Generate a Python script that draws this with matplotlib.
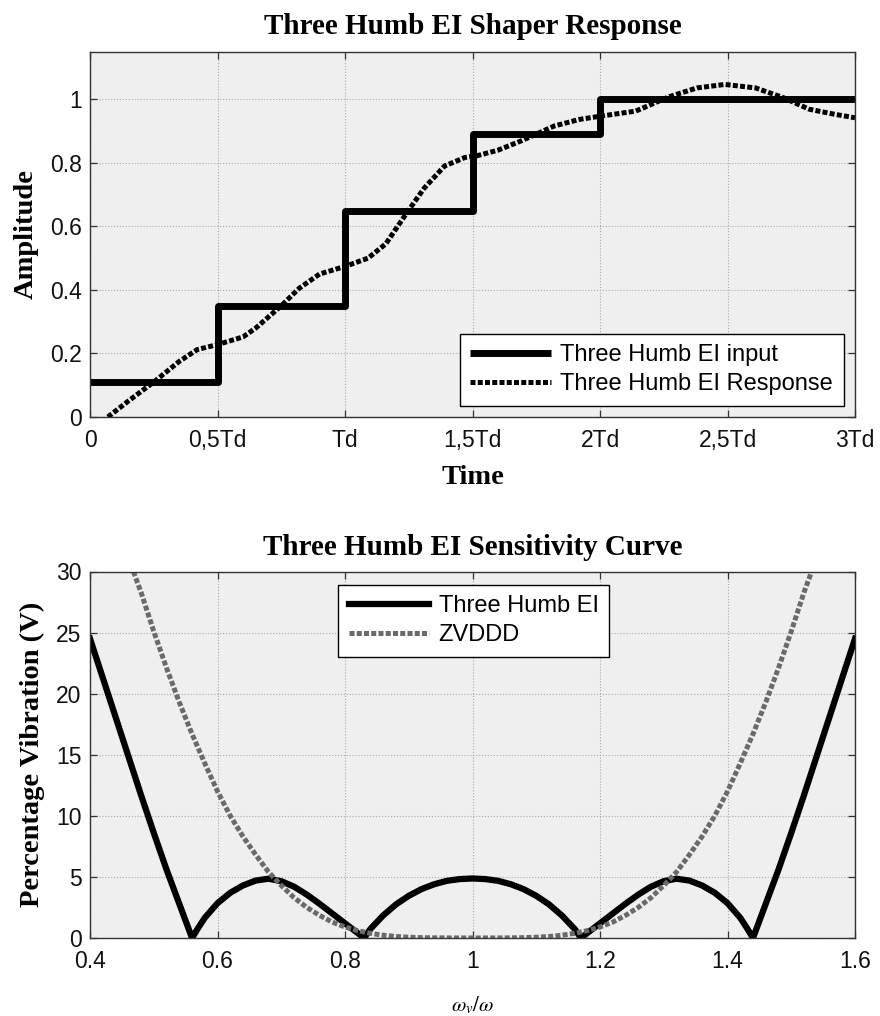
import matplotlib
matplotlib.use("Agg")
import matplotlib.pyplot as plt

# ---- Three Humb EI shaper: step input (time in Td, cumulative amplitude) ----
step_times = [0.0, 0.5, 1.0, 1.5, 2.0, 3.0]
step_levels = [0.11, 0.35, 0.65, 0.89, 1.0, 1.0]

# ---- system response to the shaped input ----
resp_times = [0.07, 0.15, 0.25, 0.35, 0.42, 0.50, 0.60, 0.65, 0.71, 0.75,
              0.82, 0.90, 1.00, 1.09, 1.16, 1.24, 1.31, 1.39, 1.47, 1.52,
              1.60, 1.69, 1.82, 1.92, 2.01, 2.14, 2.27, 2.38, 2.49, 2.61,
              2.72, 2.82, 2.92, 3.00]
resp_values = [0.0, 0.05, 0.11, 0.175, 0.212, 0.228, 0.252, 0.28, 0.322, 0.35,
               0.405, 0.45, 0.474, 0.50, 0.545, 0.64, 0.72, 0.79, 0.817, 0.823,
               0.84, 0.869, 0.916, 0.937, 0.948, 0.963, 1.008, 1.036, 1.047, 1.036,
               1.005, 0.969, 0.953, 0.942]

time_ticks = [0, 0.5, 1.0, 1.5, 2.0, 2.5, 3.0]
time_labels = ["0", "0,5Td", "Td", "1,5Td", "2Td", "2,5Td", "3Td"]
amp_ticks = [0, 0.2, 0.4, 0.6, 0.8, 1.0]
amp_labels = ["0", "0.2", "0.4", "0.6", "0.8", "1"]

# ---- sensitivity curves: frequency ratio vs percentage vibration ----
ratio_ei = [0.40, 0.42, 0.44, 0.46, 0.48, 0.50, 0.52, 0.54, 0.56, 0.57,
            0.58, 0.60, 0.62, 0.64, 0.66, 0.68, 0.70, 0.72, 0.74, 0.76,
            0.78, 0.80, 0.82, 0.83, 0.84, 0.86, 0.88, 0.90, 0.92, 0.94,
            0.96, 0.98, 1.00, 1.02, 1.04, 1.06, 1.08, 1.10, 1.12, 1.14,
            1.16, 1.17, 1.18, 1.20, 1.22, 1.24, 1.26, 1.28, 1.30, 1.32,
            1.34, 1.36, 1.38, 1.40, 1.42, 1.43, 1.44, 1.46, 1.48, 1.50,
            1.52, 1.54, 1.56, 1.58, 1.60]
vib_ei = [24.5, 21.3, 18.1, 14.9, 11.7, 8.6, 5.6, 2.8, 0.0, 0.85,
          1.65, 2.85, 3.7, 4.3, 4.7, 4.85, 4.65, 4.2, 3.55, 2.8,
          2.0, 1.2, 0.4, 0.0, 0.75, 1.85, 2.75, 3.45, 4.0, 4.4,
          4.68, 4.82, 4.87, 4.82, 4.68, 4.4, 4.0, 3.45, 2.75, 1.85,
          0.75, 0.0, 0.4, 1.2, 2.0, 2.8, 3.55, 4.2, 4.65, 4.85,
          4.7, 4.3, 3.7, 2.85, 1.65, 0.85, 0.0, 2.8, 5.6, 8.6,
          11.7, 14.9, 18.1, 21.3, 24.5]

ratio_zv = [0.468, 0.48, 0.50, 0.52, 0.54, 0.56, 0.58, 0.60, 0.62, 0.64,
            0.66, 0.68, 0.70, 0.72, 0.74, 0.76, 0.78, 0.80, 0.82, 0.84,
            0.86, 0.88, 0.90, 0.92, 0.94, 0.97, 1.00, 1.03, 1.06, 1.08,
            1.10, 1.12, 1.14, 1.16, 1.18, 1.20, 1.22, 1.24, 1.26, 1.28,
            1.30, 1.32, 1.34, 1.36, 1.38, 1.40, 1.42, 1.44, 1.46, 1.48,
            1.50, 1.52, 1.532]
vib_zv = [30.0, 28.3, 25.1, 22.1, 19.3, 16.7, 14.3, 12.0, 10.0, 8.3,
          6.8, 5.4, 4.3, 3.3, 2.5, 1.85, 1.3, 0.9, 0.6, 0.38,
          0.22, 0.12, 0.06, 0.025, 0.01, 0.0, 0.0, 0.0, 0.01, 0.025,
          0.06, 0.12, 0.22, 0.38, 0.6, 0.9, 1.3, 1.85, 2.5, 3.3,
          4.3, 5.4, 6.8, 8.3, 10.0, 12.0, 14.3, 16.7, 19.3, 22.1,
          25.1, 28.3, 30.0]

ratio_ticks = [0.4, 0.6, 0.8, 1.0, 1.2, 1.4, 1.6]
ratio_labels = ["0.4", "0.6", "0.8", "1", "1.2", "1.4", "1.6"]
vib_ticks = [0, 5, 10, 15, 20, 25, 30]

# ---- styling ----
SANS = ["Liberation Sans", "DejaVu Sans"]
SERIF = ["Liberation Serif", "DejaVu Serif"]
plt.rcParams["font.family"] = SANS
plt.rcParams["mathtext.fontset"] = "stix"

TICK_FS = 16.5
LEG_FS = 17
TITLE_FS = 21
LABEL_FS = 20.5
FACE = "#efefef"
GRID = "#a8a8a8"
FRAME = "#333333"
DOTS = (0, (1.0, 0.45))

fig = plt.figure(figsize=(8.8, 10.16), dpi=100)
ax1 = fig.add_axes([0.1023, 0.5896, 0.8693, 0.3595])
ax2 = fig.add_axes([0.1023, 0.0768, 0.8693, 0.3607])


def style_axes(ax):
    ax.set_facecolor(FACE)
    for s in ax.spines.values():
        s.set_color(FRAME)
        s.set_linewidth(1.0)
    ax.tick_params(direction="in", top=True, right=True, length=5,
                   width=0.9, color=FRAME, labelsize=TICK_FS,
                   labelcolor="#111111")
    ax.tick_params(axis="x", pad=9)
    ax.tick_params(axis="y", pad=6)
    ax.grid(True, linestyle=":", color=GRID, linewidth=0.8)
    ax.set_axisbelow(True)


def framed_legend(ax, **kw):
    leg = ax.legend(borderaxespad=0, fontsize=LEG_FS, frameon=True,
                    fancybox=False, framealpha=1, edgecolor="black",
                    handlelength=3.4, handletextpad=0.4, labelspacing=0.3,
                    borderpad=0.45, **kw)
    leg.get_frame().set_linewidth(1.0)
    return leg


# ---- top: shaper response ----
style_axes(ax1)
ax1.plot(step_times, step_levels, drawstyle="steps-post", color="black",
         lw=5, solid_capstyle="butt", label="Three Humb EI input")
ax1.plot(resp_times, resp_values, color="black", lw=3.6, linestyle=DOTS,
         dash_capstyle="butt", label="Three Humb EI Response")
ax1.set_xlim(0, 3)
ax1.set_ylim(0, 1.15)
ax1.set_xticks(time_ticks)
ax1.set_xticklabels(time_labels)
ax1.set_yticks(amp_ticks)
ax1.set_yticklabels(amp_labels)
ax1.set_title("Three Humb EI Shaper Response", family=SERIF,
              fontweight="bold", fontsize=TITLE_FS, pad=13)
ax1.set_xlabel("Time", family=SERIF, fontweight="bold",
               fontsize=LABEL_FS, labelpad=9)
ax1.set_ylabel("Amplitude", family=SERIF, fontweight="bold",
               fontsize=LABEL_FS, labelpad=8)
framed_legend(ax1, loc="lower right", bbox_to_anchor=(0.985, 0.03))

# ---- bottom: sensitivity curve ----
style_axes(ax2)
ax2.plot(ratio_ei, vib_ei, color="black", lw=4.5, label="Three Humb EI")
ax2.plot(ratio_zv, vib_zv, color="#6a6a6a", lw=3.6, linestyle=DOTS,
         dash_capstyle="butt", label="ZVDDD")
ax2.set_xlim(0.4, 1.6)
ax2.set_ylim(0, 30)
ax2.set_xticks(ratio_ticks)
ax2.set_xticklabels(ratio_labels)
ax2.set_yticks(vib_ticks)
ax2.set_title("Three Humb EI Sensitivity Curve", family=SERIF,
              fontweight="bold", fontsize=TITLE_FS, pad=12)
ax2.set_xlabel(r"$\omega_v/\omega$", fontsize=15, labelpad=15)
ax2.set_ylabel("Percentage Vibration (V)", family=SERIF, fontweight="bold",
               fontsize=LABEL_FS, labelpad=8)
framed_legend(ax2, loc="upper left", bbox_to_anchor=(0.3246, 0.964))

fig.savefig("out.png", dpi=100, facecolor="white")
